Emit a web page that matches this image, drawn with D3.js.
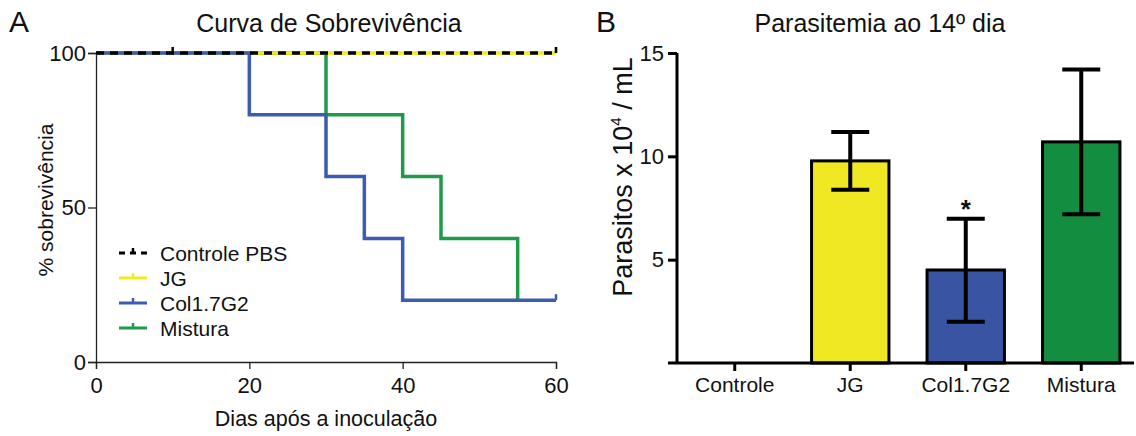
<!DOCTYPE html>
<html>
<head>
<meta charset="utf-8">
<script src="https://cdn.jsdelivr.net/npm/d3@7"></script>
<style>
body { margin: 0; background: #fff; }
text { font-family: "Liberation Sans", Arial, sans-serif; fill: #111; }
</style>
</head>
<body>
<svg id="chart" width="1136" height="436"></svg>
<script>
// survival data (days, % survival)
var grupos = ["Controle PBS", "JG", "Col1.7G2", "Mistura"];
var cores = ["#000000", "#f2ea1c", "#3d5bb0", "#1f9a4a"];
var controleT = [0, 60], controleS = [100, 100], controleCens = [10, 60];
var jgT = [0, 60], jgS = [100, 100], jgCens = [60];
var colT = [0, 20, 30, 35, 40, 60], colS = [100, 80, 60, 40, 20, 20], colCens = [60];
var misT = [0, 30, 40, 45, 55], misS = [100, 80, 60, 40, 20], misCens = [];
var diasTicks = [0, 20, 40, 60];
var sobrevTicks = [0, 50, 100];

// parasitemia
var categorias = ["Controle", "JG", "Col1.7G2", "Mistura"];
var medias = [0, 9.78, 4.5, 10.7];
var erroBaixo = [0, 8.38, 2.0, 7.2];
var erroAlto = [0, 11.18, 6.98, 14.2];
var coresBarras = [null, "#efe823", "#3a54a4", "#138e40"];
var parasTicks = [5, 10, 15];

var svg = d3.select("#chart");

// ---------- panel A ----------
var x = d3.scaleLinear().domain([0, 60]).range([96, 556]);
var y = d3.scaleLinear().domain([0, 100]).range([362, 53]);

svg.append("text").attr("x", 9).attr("y", 32).attr("font-size", 30).text("A");
svg.append("text").attr("x", 329).attr("y", 32).attr("text-anchor", "middle")
	.attr("font-size", 25).text("Curva de Sobrevivência");

var gx = svg.append("g").attr("transform", "translate(0,362)")
	.call(d3.axisBottom(x).tickValues(diasTicks).tickSize(7).tickPadding(0));
var gy = svg.append("g").attr("transform", "translate(96,0)")
	.call(d3.axisLeft(y).tickValues(sobrevTicks).tickSize(8).tickPadding(2));
[gx, gy].forEach(function(g) {
	g.select(".domain").attr("stroke", "#222").attr("stroke-width", 1.3);
	g.selectAll(".tick line").attr("stroke", "#222").attr("stroke-width", 1.3);
	g.selectAll("text").attr("font-size", 22).attr("font-family", "Liberation Sans, Arial, sans-serif").attr("fill", "#111");
});
gx.selectAll(".tick text").attr("dy", null).attr("y", 31);

svg.append("text").attr("transform", "translate(53,200) rotate(-90)")
	.attr("text-anchor", "middle").attr("font-size", 21).text("% sobrevivência");
svg.append("text").attr("x", 326).attr("y", 426).attr("text-anchor", "middle")
	.attr("font-size", 21.5).text("Dias após a inoculação");

var line = d3.line().x(function(d) { return x(d[0]); }).y(function(d) { return y(d[1]); })
	.curve(d3.curveStepAfter);

var series = [
	{ t: controleT, s: controleS, c: controleCens, i: 0 },
	{ t: jgT, s: jgS, c: jgCens, i: 1 },
	{ t: colT, s: colS, c: colCens, i: 2 },
	{ t: misT, s: misS, c: misCens, i: 3 }
];
// drawing order: green, yellow, blue, black dashed
[3, 1, 2, 0].forEach(function(k) {
	var d = series[k];
	var pts = d.t.map(function(t, j) { return [t, d.s[j]]; });
	var p = svg.append("path").datum(pts).attr("d", line).attr("fill", "none")
		.attr("stroke", cores[d.i]).attr("stroke-width", 3.5);
	if (d.i == 0) p.attr("stroke-dasharray", "8,6").attr("stroke-width", 3.5);
	d.c.forEach(function(ct) {
		var sv = d.s[d3.bisectRight(d.t, ct) - 1];
		svg.append("line").attr("x1", x(ct)).attr("x2", x(ct))
			.attr("y1", y(sv)).attr("y2", y(sv) - 6)
			.attr("stroke", cores[d.i]).attr("stroke-width", 2.5);
	});
});

// legend
var leg = svg.append("g").attr("transform", "translate(119,253)");
grupos.forEach(function(g, i) {
	var row = leg.append("g").attr("transform", "translate(0," + (i * 25) + ")");
	var ln = row.append("line").attr("x1", 0).attr("x2", 28).attr("y1", 0).attr("y2", 0)
		.attr("stroke", cores[i]).attr("stroke-width", 3);
	if (i == 0) ln.attr("stroke-dasharray", "6,5");
	row.append("line").attr("x1", 14).attr("x2", 14).attr("y1", 0).attr("y2", -5)
		.attr("stroke", cores[i]).attr("stroke-width", 2.5);
	row.append("text").attr("x", 41).attr("y", 7.5).attr("font-size", 21).text(g);
});

// ---------- panel B ----------
var xb = d3.scaleBand().domain(categorias).range([677, 1139]).paddingInner(0.33).paddingOuter(0.165);
var yb = d3.scaleLinear().domain([0, 15]).range([363, 53]);

svg.append("text").attr("x", 596).attr("y", 32).attr("font-size", 30).text("B");
svg.append("text").attr("x", 880).attr("y", 32).attr("text-anchor", "middle")
	.attr("font-size", 25).text("Parasitemia ao 14º dia");

svg.append("g").selectAll("rect").data(categorias).enter().append("rect")
	.filter(function(d, i) { return medias[i] > 0; })
	.attr("x", function(d) { return xb(d); })
	.attr("y", function(d) { return yb(medias[categorias.indexOf(d)]); })
	.attr("width", xb.bandwidth())
	.attr("height", function(d) { return yb(0) - yb(medias[categorias.indexOf(d)]); })
	.attr("fill", function(d) { return coresBarras[categorias.indexOf(d)]; })
	.attr("stroke", "#000").attr("stroke-width", 3);

var eb = svg.append("g");
categorias.forEach(function(c, i) {
	if (medias[i] == 0) return;
	var cx = xb(c) + xb.bandwidth() / 2;
	eb.append("line").attr("x1", cx).attr("x2", cx).attr("y1", yb(erroBaixo[i])).attr("y2", yb(erroAlto[i]))
		.attr("stroke", "#000").attr("stroke-width", 4);
	[erroBaixo[i], erroAlto[i]].forEach(function(v) {
		eb.append("line").attr("x1", cx - 19).attr("x2", cx + 19).attr("y1", yb(v)).attr("y2", yb(v))
			.attr("stroke", "#000").attr("stroke-width", 4);
	});
});
svg.append("text").attr("x", xb("Col1.7G2") + xb.bandwidth() / 2).attr("y", 218)
	.attr("text-anchor", "middle").attr("font-size", 26).attr("font-weight", "bold").text("*");

var gxb = svg.append("g").attr("transform", "translate(0,363)")
	.call(d3.axisBottom(xb).tickSize(8).tickPadding(0).tickSizeOuter(0));
gxb.select(".domain").attr("d", "M668,0H1134");
var gyb = svg.append("g").attr("transform", "translate(677,0)")
	.call(d3.axisLeft(yb).tickValues(parasTicks).tickSize(9).tickPadding(4).tickSizeOuter(0));
[gxb, gyb].forEach(function(g) {
	g.select(".domain").attr("stroke", "#000").attr("stroke-width", 3);
	g.selectAll(".tick line").attr("stroke", "#000").attr("stroke-width", 3);
	g.selectAll("text").attr("font-size", 21).attr("font-family", "Liberation Sans, Arial, sans-serif").attr("fill", "#111");
});
gxb.selectAll(".tick text").attr("dy", null).attr("y", 29);
gyb.selectAll(".tick text").attr("font-size", 22);
gyb.select(".domain").attr("d", "M0,53V363");

var ylab = svg.append("text").attr("transform", "translate(632,177) rotate(-90)")
	.attr("text-anchor", "middle").attr("font-size", 27);
ylab.append("tspan").text("Parasitos x 10");
ylab.append("tspan").attr("font-size", 15).attr("dy", -11).text("4");
ylab.append("tspan").attr("dy", 11).text(" / mL");
</script>
</body>
</html>
